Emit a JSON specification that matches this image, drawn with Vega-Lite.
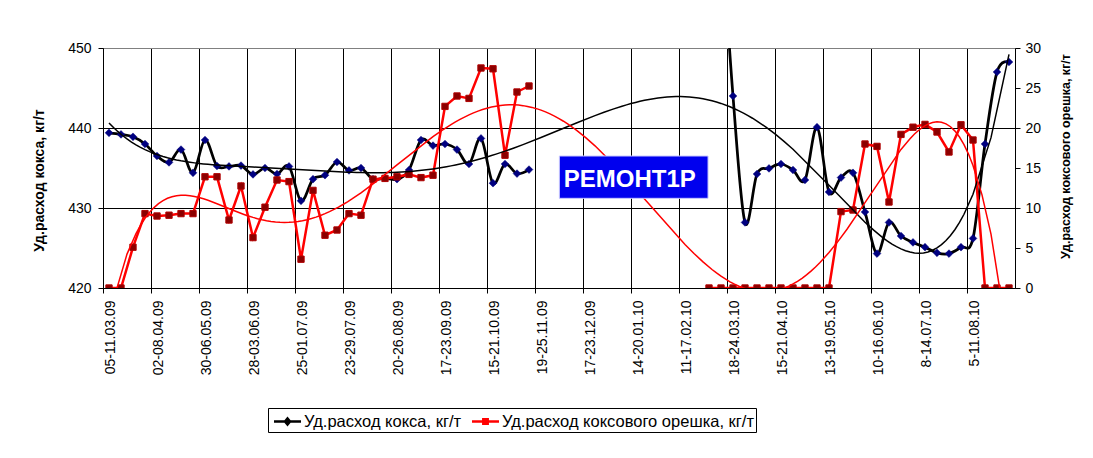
{
"$schema": "https://vega.github.io/schema/vega-lite/v6.json",
"width": 912, "height": 240,
"autosize": {"type": "none"},
"padding": {"left": 103, "top": 48, "right": 78, "bottom": 170},
"background": "white",
"config": {
  "font": "Liberation Sans",
  "view": {"stroke": "#808080", "strokeWidth": 1},
  "axis": {"labelFont": "Liberation Sans", "labelFontSize": 14, "labelColor": "#000", "domainColor": "#000", "tickColor": "#000", "gridColor": "#000", "titleFont": "Liberation Sans", "titleFontSize": 14, "titleFontWeight": "bold", "titleColor": "#000", "tickSize": 5, "domainWidth": 1, "gridWidth": 1, "gridOpacity": 1}
},
"data": {"values": [
{"i":0,"week":"05-11.03.09","coke":439.4,"nut":0},
{"i":1,"week":"12-18.03.09","coke":439.2,"nut":0},
{"i":2,"week":"19-25.03.09","coke":438.9,"nut":5.1},
{"i":3,"week":"26-01.04.09","coke":438.0,"nut":9.3},
{"i":4,"week":"02-08.04.09","coke":436.5,"nut":9.0},
{"i":5,"week":"09-15.04.09","coke":435.7,"nut":9.1},
{"i":6,"week":"16-22.04.09","coke":437.3,"nut":9.3},
{"i":7,"week":"23-29.04.09","coke":434.4,"nut":9.3},
{"i":8,"week":"30-06.05.09","coke":438.5,"nut":13.9},
{"i":9,"week":"07-13.05.09","coke":435.25,"nut":13.9},
{"i":10,"week":"14-20.05.09","coke":435.2,"nut":8.5},
{"i":11,"week":"21-27.05.09","coke":435.3,"nut":12.75},
{"i":12,"week":"28-03.06.09","coke":434.2,"nut":6.3},
{"i":13,"week":"04-10.06.09","coke":435.0,"nut":10.1},
{"i":14,"week":"11-17.06.09","coke":434.25,"nut":13.5},
{"i":15,"week":"18-24.06.09","coke":435.2,"nut":13.3},
{"i":16,"week":"25-01.07.09","coke":430.9,"nut":3.6},
{"i":17,"week":"02-08.07.09","coke":433.6,"nut":12.2},
{"i":18,"week":"09-15.07.09","coke":434.1,"nut":6.6},
{"i":19,"week":"16-22.07.09","coke":435.75,"nut":7.25},
{"i":20,"week":"23-29.07.09","coke":434.7,"nut":9.3},
{"i":21,"week":"30-05.08.09","coke":435.0,"nut":9.1},
{"i":22,"week":"06-12.08.09","coke":433.6,"nut":13.6},
{"i":23,"week":"13-19.08.09","coke":433.75,"nut":13.7},
{"i":24,"week":"20-26.08.09","coke":433.6,"nut":13.9},
{"i":25,"week":"27-02.09.09","coke":434.75,"nut":14.2},
{"i":26,"week":"03-09.09.09","coke":438.5,"nut":13.8},
{"i":27,"week":"10-16.09.09","coke":437.8,"nut":14.1},
{"i":28,"week":"17-23.09.09","coke":438.0,"nut":22.7},
{"i":29,"week":"24-30.09.09","coke":437.3,"nut":24.0},
{"i":30,"week":"01-07.10.09","coke":435.5,"nut":23.7},
{"i":31,"week":"08-14.10.09","coke":438.7,"nut":27.5},
{"i":32,"week":"15-21.10.09","coke":433.1,"nut":27.4},
{"i":33,"week":"22-28.10.09","coke":435.5,"nut":16.6},
{"i":34,"week":"29-04.11.09","coke":434.3,"nut":24.5},
{"i":35,"week":"05-11.11.09","coke":434.8,"nut":25.25},
{"i":36,"week":"19-25.11.09","coke":null,"nut":null},
{"i":37,"week":"26-02.12.09","coke":null,"nut":null},
{"i":38,"week":"03-09.12.09","coke":null,"nut":null},
{"i":39,"week":"10-16.12.09","coke":null,"nut":null},
{"i":40,"week":"17-23.12.09","coke":null,"nut":null},
{"i":41,"week":"24-30.12.09","coke":null,"nut":null},
{"i":42,"week":"31-06.01.10","coke":null,"nut":null},
{"i":43,"week":"07-13.01.10","coke":null,"nut":null},
{"i":44,"week":"14-20.01.10","coke":null,"nut":null},
{"i":45,"week":"21-27.01.10","coke":null,"nut":null},
{"i":46,"week":"28-03.02.10","coke":null,"nut":null},
{"i":47,"week":"04-10.02.10","coke":null,"nut":null},
{"i":48,"week":"11-17.02.10","coke":null,"nut":null},
{"i":49,"week":"18-24.02.10","coke":null,"nut":null},
{"i":50,"week":"25-03.03.10","coke":null,"nut":0},
{"i":51,"week":"04-10.03.10","coke":466,"nut":0},
{"i":52,"week":"18-24.03.10","coke":444.0,"nut":0},
{"i":53,"week":"25-31.03.10","coke":428.2,"nut":0},
{"i":54,"week":"01-07.04.10","coke":434.25,"nut":0},
{"i":55,"week":"08-14.04.10","coke":434.95,"nut":0},
{"i":56,"week":"15-21.04.10","coke":435.5,"nut":0},
{"i":57,"week":"22-28.04.10","coke":434.75,"nut":0},
{"i":58,"week":"29-05.05.10","coke":433.5,"nut":0},
{"i":59,"week":"06-12.05.10","coke":440.1,"nut":0},
{"i":60,"week":"13-19.05.10","coke":432.0,"nut":0},
{"i":61,"week":"20-26.05.10","coke":433.8,"nut":9.55},
{"i":62,"week":"27-02.06.10","coke":434.4,"nut":9.75},
{"i":63,"week":"03-09.06.10","coke":429.5,"nut":18.0},
{"i":64,"week":"10-16.06.10","coke":424.3,"nut":17.7},
{"i":65,"week":"17-23.06.10","coke":428.2,"nut":10.75},
{"i":66,"week":"24-30.06.10","coke":426.5,"nut":19.2},
{"i":67,"week":"1-7.07.10","coke":425.7,"nut":20.1},
{"i":68,"week":"8-14.07.10","coke":425.1,"nut":20.45},
{"i":69,"week":"15-21.07.10","coke":424.4,"nut":19.5},
{"i":70,"week":"22-28.07.10","coke":424.3,"nut":17.0},
{"i":71,"week":"29-4.08.10","coke":425.1,"nut":20.4},
{"i":72,"week":"5-11.08.10","coke":426.2,"nut":18.5},
{"i":73,"week":"12-18.08.10","coke":438.0,"nut":0},
{"i":74,"week":"19-25.08.10","coke":447.0,"nut":0},
{"i":75,"week":"26-1.09.10","coke":448.25,"nut":0}
]},
"layer": [
 {"encoding": {
   "x": {"field": "i", "type": "quantitative",
    "scale": {"domain": [-0.5, 75.5], "nice": false, "zero": false},
    "axis": {"title": null, "grid": true,
      "values": [-0.5,3.5,7.5,11.5,15.5,19.5,23.5,27.5,31.5,35.5,39.5,43.5,47.5,51.5,55.5,59.5,63.5,67.5,71.5],
      "labelExpr": "['05-11.03.09','02-08.04.09','30-06.05.09','28-03.06.09','25-01.07.09','23-29.07.09','20-26.08.09','17-23.09.09','15-21.10.09','19-25.11.09','17-23.12.09','14-20.01.10','11-17.02.10','18-24.03.10','15-21.04.10','13-19.05.10','10-16.06.10','8-14.07.10','5-11.08.10'][round((datum.value+0.5)/4)]",
      "labelAngle": 270, "labelAlign": "right", "labelBaseline": "middle", "labelOffset": 7, "labelPadding": 7, "labelOverlap": false, "labelBound": false, "labelFlush": false}}
  },
  "layer": [
  {"mark": {"type": "line", "interpolate": "cardinal", "strokeWidth": 2.75, "clip": true, "invalid": "break-paths-show-domains"},
   "encoding": {
     "y": {"field": "coke", "type": "quantitative", "scale": {"domain": [420, 450], "nice": false, "zero": false},
       "axis": {"orient": "left", "values": [420, 430, 440, 450], "grid": true,
         "gridColor": {"condition": {"test": "datum.value === 450", "value": "#808080"}, "value": "#000000"},
         "title": "Уд.расход кокса, кг/т", "titleAngle": 270, "titleX": -64, "titleY": 132, "titleAlign": "center", "titleBaseline": "middle", "labelPadding": 7}},
     "color": {"datum": "Уд.расход кокса, кг/т", "type": "nominal",
       "scale": {"domain": ["Уд.расход кокса, кг/т", "Уд.расход коксового орешка, кг/т"], "range": ["#000000", "#FF0000"]},
       "legend": {"orient": "none", "legendX": 165, "legendY": 360, "direction": "horizontal", "title": null,
         "labelFont": "Liberation Sans", "labelFontSize": 16.5, "labelColor": "#000", "labelLimit": 400,
         "strokeColor": "#000", "fillColor": "#fff", "padding": 2, "symbolSize": 400, "symbolOffset": 6, "labelOffset": 5, "columnPadding": 5, "symbolStrokeWidth": 2.5,
         "encode": {"symbols": {"update": {
           "shape": {"signal": "datum.value === 'Уд.расход кокса, кг/т' ? 'M-1.35,0L1.35,0M-0.25,0L0,-0.3L0.25,0L0,0.3Z' : 'M-1.35,0L1.35,0M-0.22,-0.22L0.22,-0.22L0.22,0.22L-0.22,0.22Z'"},
           "fill": {"signal": "datum.value === 'Уд.расход кокса, кг/т' ? '#000080' : '#800000'"},
           "opacity": {"value": 1}}}}}}
   }},
  {"mark": {"type": "point", "shape": "diamond", "filled": true, "size": 60, "fill": "#000080", "stroke": "#000080", "strokeWidth": 0.5, "opacity": 1, "clip": true},
   "encoding": {"y": {"field": "coke", "type": "quantitative", "scale": {"domain": [420, 450], "nice": false, "zero": false}, "axis": null}}},
  {"mark": {"type": "line", "strokeWidth": 2.5, "clip": true, "invalid": "break-paths-show-domains"},
   "encoding": {
     "y": {"field": "nut", "type": "quantitative", "scale": {"domain": [0, 30], "nice": false, "zero": false},
       "axis": {"orient": "right", "values": [0, 5, 10, 15, 20, 25, 30], "grid": false,
         "title": "Уд.расход коксового орешка, кг/т", "titleFontSize": 12.5, "titleAngle": 270, "titleX": 50, "titleY": 108, "titleAlign": "center", "titleBaseline": "middle", "labelPadding": 5}},
     "color": {"datum": "Уд.расход коксового орешка, кг/т", "type": "nominal"}
   }},
  {"mark": {"type": "point", "shape": "square", "filled": true, "size": 40, "fill": "#8B0000", "stroke": "#B00000", "strokeWidth": 1, "opacity": 1, "clip": true},
   "encoding": {"y": {"field": "nut", "type": "quantitative", "scale": {"domain": [0, 30], "nice": false, "zero": false}, "axis": null}}},
  {"transform": [{"regression": "coke", "on": "i", "method": "poly", "order": 6, "extent": [0, 75]}],
   "mark": {"type": "line", "color": "#000000", "strokeWidth": 1.5, "clip": true},
   "encoding": {"y": {"field": "coke", "type": "quantitative", "scale": {"domain": [420, 450], "nice": false, "zero": false}, "axis": null}}},
  {"transform": [{"regression": "nut", "on": "i", "method": "poly", "order": 6, "extent": [0, 75]}],
   "mark": {"type": "line", "color": "#FF0000", "strokeWidth": 1.5, "clip": true},
   "encoding": {"y": {"field": "nut", "type": "quantitative", "scale": {"domain": [0, 30], "nice": false, "zero": false}, "axis": null}}}
  ],
  "resolve": {"scale": {"y": "independent"}}
 },
 {"data": {"values": [{"label": "РЕМОНТ1Р"}]},
  "mark": {"type": "rect", "fill": "#0000EE", "stroke": "#C8C8FF", "strokeWidth": 1},
  "encoding": {"x": {"datum": 37.53, "type": "quantitative"}, "x2": {"datum": 49.92},
    "y": {"datum": 436.5, "type": "quantitative", "scale": {"domain": [420, 450], "nice": false, "zero": false}, "axis": null}, "y2": {"datum": 431.21}}},
 {"data": {"values": [{"label": "РЕМОНТ1Р"}]},
  "mark": {"type": "text", "color": "#FFFFFF", "fontSize": 24, "fontWeight": "bold", "font": "Liberation Sans", "align": "center", "baseline": "middle"},
  "encoding": {"x": {"datum": 43.4, "type": "quantitative"},
    "y": {"datum": 433.54, "type": "quantitative", "scale": {"domain": [420, 450], "nice": false, "zero": false}, "axis": null},
    "text": {"field": "label"}}}
],
"resolve": {"scale": {"y": "independent"}}
}
